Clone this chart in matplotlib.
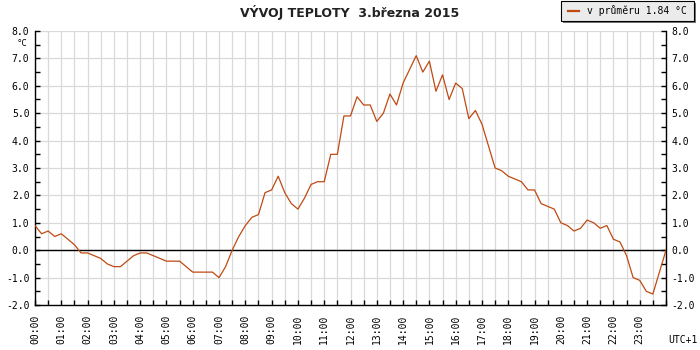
import matplotlib
matplotlib.use("Agg")
import matplotlib.pyplot as plt
import numpy as np
from matplotlib.patches import Rectangle
from matplotlib.lines import Line2D
from matplotlib.ticker import MultipleLocator

# teploty po 15 minutách, 00:00 .. 24:00
interval_min = 15
temps = [
    0.9, 0.6, 0.7, 0.5, 0.6, 0.4, 0.2, -0.1,        # 00:00 - 01:45
    -0.1, -0.2, -0.3, -0.5, -0.6, -0.6, -0.4, -0.2,  # 02:00 - 03:45
    -0.1, -0.1, -0.2, -0.3, -0.4, -0.4, -0.4, -0.6,  # 04:00 - 05:45
    -0.8, -0.8, -0.8, -0.8, -1.0, -0.6, 0.0, 0.5,    # 06:00 - 07:45
    0.9, 1.2, 1.3, 2.1, 2.2, 2.7, 2.1, 1.7,          # 08:00 - 09:45
    1.5, 1.9, 2.4, 2.5, 2.5, 3.5, 3.5, 4.9,          # 10:00 - 11:45
    4.9, 5.6, 5.3, 5.3, 4.7, 5.0, 5.7, 5.3,          # 12:00 - 13:45
    6.1, 6.6, 7.1, 6.5, 6.9, 5.8, 6.4, 5.5,          # 14:00 - 15:45
    6.1, 5.9, 4.8, 5.1, 4.6, 3.8, 3.0, 2.9,          # 16:00 - 17:45
    2.7, 2.6, 2.5, 2.2, 2.2, 1.7, 1.6, 1.5,          # 18:00 - 19:45
    1.0, 0.9, 0.7, 0.8, 1.1, 1.0, 0.8, 0.9,          # 20:00 - 21:45
    0.4, 0.3, -0.2, -1.0, -1.1, -1.5, -1.6, -0.8,    # 22:00 - 23:45
    0.0,                                             # 24:00
]
hour_labels = [f"{h:02d}:00" for h in range(24)]
title = "VÝVOJ TEPLOTY  3.března 2015"
legend_text = "v průměru 1.84 °C"
unit = "°C"
tz_text = "UTC+1"

LINE = "#bf4a12"
GRID = "#d9d9d9"
MONO = "DejaVu Sans Mono"

t = np.arange(len(temps)) * interval_min / 60.0

fig = plt.figure(figsize=(7, 3.5), dpi=100)
ax = fig.add_axes([35 / 700, 45 / 350, 631 / 700, 274 / 350])

ax.plot(t, temps, color=LINE, linewidth=0.9, zorder=3)
ax.axhline(0, color="black", linewidth=1.0, zorder=2)

ax.set_xlim(0, 24)
ax.set_ylim(-2, 8)

# osa x - popisky po hodinách, čárky po půlhodinách
ax.set_xticks(np.arange(24))
ax.set_xticklabels(hour_labels, rotation=90, fontfamily=MONO, fontsize=7)
ax.xaxis.set_minor_locator(MultipleLocator(0.5))
ax.yaxis.set_major_locator(MultipleLocator(1.0))
ax.yaxis.set_minor_locator(MultipleLocator(0.5))
ax.yaxis.set_major_formatter(matplotlib.ticker.FormatStrFormatter("%.1f"))

ax.tick_params(axis="both", which="both", direction="in", length=3.6,
               width=1.0, color="black", labelsize=7)
ax.tick_params(axis="x", which="both", pad=7, top=False)
ax.tick_params(axis="y", which="both", left=True, right=True,
               labelleft=True, labelright=True, pad=4)
for lab in ax.get_yticklabels():
    lab.set_fontfamily(MONO)

ax.grid(True, axis="x", which="both", color=GRID, linewidth=0.9, zorder=0)
ax.grid(True, axis="y", which="major", color=GRID, linewidth=0.9, zorder=0)
ax.set_axisbelow(True)

ax.spines["top"].set_visible(False)
for s in ("left", "right", "bottom"):
    ax.spines[s].set_linewidth(1.0)

# texty
fig.text(0.5, 1 - 12 / 350, title, ha="center", va="center",
         fontsize=9, fontweight="bold", color="#222222")
fig.text(22 / 700, 1 - 44 / 350, unit, ha="center", va="center",
         fontsize=6.5, fontfamily=MONO)
fig.text(683 / 700, 1 - 340 / 350, tz_text, ha="center", va="center",
         fontsize=7, fontfamily=MONO)

# legenda vpravo nahoře se stínem
bx0, bx1, by0, by1 = 561, 694, 1, 21
fig.add_artist(Rectangle(((bx0 + 2) / 700, 1 - (by1 + 2) / 350),
                         (bx1 - bx0) / 700, (by1 - by0) / 350,
                         transform=fig.transFigure, facecolor="#777777",
                         edgecolor="none"))
fig.add_artist(Rectangle((bx0 / 700, 1 - by1 / 350),
                         (bx1 - bx0) / 700, (by1 - by0) / 350,
                         transform=fig.transFigure, facecolor="#ebebeb",
                         edgecolor="black", linewidth=0.8))
fig.add_artist(Line2D([568 / 700, 579 / 700], [1 - 11 / 350, 1 - 11 / 350],
                      transform=fig.transFigure, color=LINE, linewidth=1.6))
fig.text(587 / 700, 1 - 11 / 350, legend_text, ha="left", va="center",
         fontsize=7, fontfamily=MONO)

fig.savefig("out.png", dpi=100)
